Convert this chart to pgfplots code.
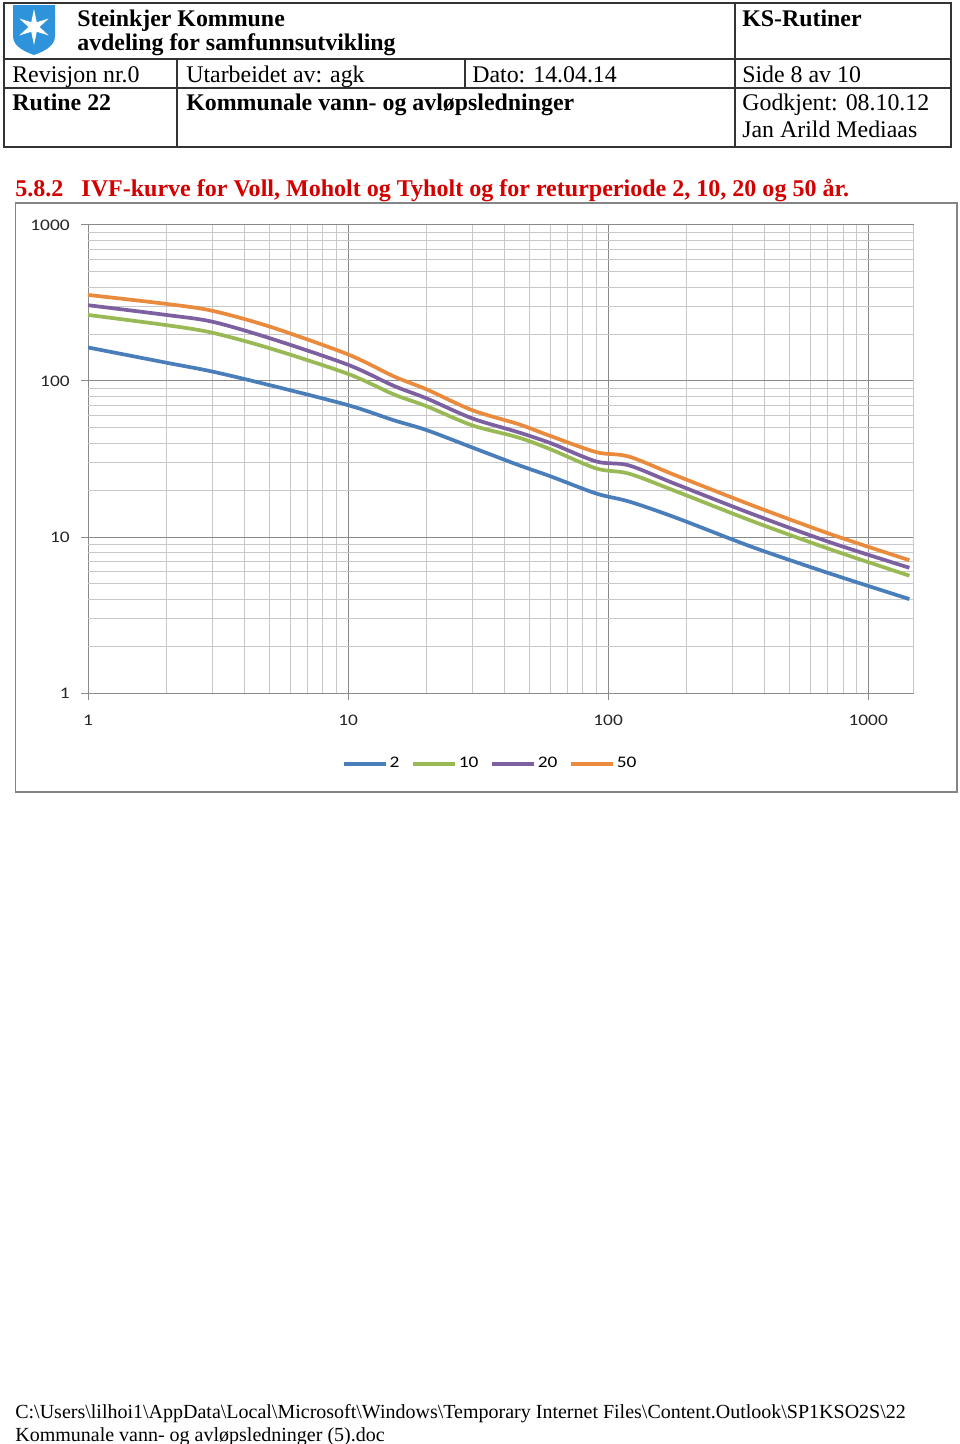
\documentclass[border=0pt]{standalone}
\usepackage{fontspec}
\setmainfont{Liberation Serif}
\newfontfamily\calibri[FakeStretch=1.2]{Carlito}
\usepackage{pgfplots}
\pgfplotsset{compat=1.18}

\definecolor{sblue}{HTML}{4A7EBB}
\definecolor{sgreen}{HTML}{98B954}
\definecolor{spurple}{HTML}{7D60A0}
\definecolor{sorange}{HTML}{EA8A3C}
\definecolor{titlered}{HTML}{D40000}
\definecolor{shield}{HTML}{2E93DA}
\definecolor{majgrid}{HTML}{8A8A8A}
\definecolor{mingrid}{HTML}{C8C8C8}

\begin{document}
\begin{tikzpicture}
\begin{scope}[x=0.62pt,y=-0.62pt]
\useasboundingbox (0,0) rectangle (960,1444);
\fill[white] (0,0) rectangle (960,1444);

% header table
\begin{scope}[line width=0.7pt, draw=black!80]
  \draw (4,3) rectangle (951,147);
  \draw (4,59) -- (951,59);
  \draw (4,88) -- (951,88);
  \draw (177,59) -- (177,147);
  \draw (465,59) -- (465,88);
  \draw (735,3) -- (735,147);
\end{scope}

% logo
\fill[shield] (13,5) -- (55,5) -- (55,36) .. controls (55,47) and (42,52) .. (34,55)
  .. controls (26,52) and (13,47) .. (13,36) -- cycle;
\fill[white, shift={(34,27)}] (90:18) -- (120:5.5) -- (150:17) -- (180:5.5) -- (210:17)
  -- (240:5.5) -- (270:18) -- (300:5.5) -- (330:17) -- (0:5.5) -- (30:17) -- (60:5.5) -- cycle;

\begin{scope}[every node/.style={anchor=base west, inner sep=0pt, font=\fontsize{14.8}{17}\selectfont}]
  \node[font=\bfseries\fontsize{14.8}{17}\selectfont] at (77,26) {Steinkjer Kommune};
  \node[font=\bfseries\fontsize{14.8}{17}\selectfont] at (77,50) {avdeling for samfunnsutvikling};
  \node[font=\bfseries\fontsize{14.8}{17}\selectfont] at (742,26) {KS-Rutiner};
  \node at (12,82) {Revisjon nr.0};
  \node at (186,82) {Utarbeidet av: agk};
  \node at (472,82) {Dato: 14.04.14};
  \node at (742,82) {Side 8 av 10};
  \node[font=\bfseries\fontsize{14.8}{17}\selectfont] at (12,110) {Rutine 22};
  \node[font=\bfseries\fontsize{14.8}{17}\selectfont] at (186,110) {Kommunale vann- og avløpsledninger};
  \node at (742,110) {Godkjent: 08.10.12};
  \node at (742,137) {Jan Arild Mediaas};
\end{scope}

\begin{scope}[every node/.style={anchor=base west, inner sep=0pt}]
  \node[font=\bfseries\fontsize{14.9}{17}\selectfont, text=titlered] at (15,196)
    {5.8.2\hspace{0.5em} IVF-kurve for Voll, Moholt og Tyholt og for returperiode 2, 10, 20 og 50 år.};
  \node[font=\fontsize{12.4}{15}\selectfont] at (15,1418) {C:\textbackslash Users\textbackslash lilhoi1\textbackslash AppData\textbackslash Local\textbackslash Microsoft\textbackslash Windows\textbackslash Temporary Internet Files\textbackslash Content.Outlook\textbackslash SP1KSO2S\textbackslash 22};
  \node[font=\fontsize{12.4}{15}\selectfont] at (15,1441) {Kommunale vann- og avløpsledninger (5).doc};
\end{scope}

% chart frame
\draw[line width=1.2pt, draw=black!48] (15.5,203) rectangle (957,792);
\end{scope}

\begin{axis}[
  at={(54.56pt,-429.66pt)}, anchor=south west,
  scale only axis,
  width=512.1pt, height=290.2pt,
  xmode=log, ymode=log,
  xmin=1, xmax=1500, ymin=1, ymax=1000,
  xtick={1,10,100,1000}, xticklabels={1,10,100,1000},
  ytick={1,10,100,1000}, yticklabels={1,10,100,1000},
  minor xtick={2,3,4,5,6,7,8,9,20,30,40,50,60,70,80,90,200,300,400,500,600,700,800,900},
  minor ytick={2,3,4,5,6,7,8,9,20,30,40,50,60,70,80,90,200,300,400,500,600,700,800,900},
  grid=both,
  major grid style={draw=majgrid, line width=0.6pt},
  minor grid style={draw=mingrid, line width=0.6pt},
  axis line style={draw=none},
  tick align=outside,
  xtick pos=bottom, ytick pos=left,
  major tick length=4.3pt, minor tick length=0pt,
  major tick style={draw=majgrid, line width=0.6pt},
  ticklabel style={font=\calibri\fontsize{10}{12}\selectfont, text=black!85},
  yticklabel style={anchor=east, inner sep=0pt, xshift=-6.9pt},
  xticklabel style={anchor=north, inner sep=0pt, yshift=-9.3pt},
  legend style={at={(0.487,-0.151)}, anchor=center, draw=none, fill=none,
    legend columns=4, font=\calibri\fontsize{10}{12}\selectfont,
    nodes={inner sep=1pt},
    /tikz/every even column/.append style={column sep=6.5pt}},
  legend image code/.code={\draw[#1] (0pt,0pt) -- (26pt,0pt);},
  every axis plot/.append style={line width=2.3pt, smooth},
]
\addplot[sblue] coordinates {
  (1,164) (2,131) (3,115) (5,94) (10,70) (15,56) (20,48.5) (30,37.5) (45,29)
  (60,24.5) (90,19) (120,16.9) (180,13.4) (360,8.6) (720,5.8) (1440,4.0)
};
\addlegendentry{2}
\addplot[sgreen] coordinates {
  (1,265) (2,228) (3,204) (5,162) (10,111) (15,82) (20,69) (30,52) (45,43.5)
  (60,36.5) (90,27.5) (120,25.5) (180,19.8) (360,12.6) (720,8.3) (1440,5.65)
};
\addlegendentry{10}
\addplot[spurple] coordinates {
  (1,306) (2,265) (3,240) (5,188) (10,127) (15,93) (20,77.5) (30,57.6) (45,47)
  (60,40) (90,30.5) (120,28.8) (180,22) (360,14.0) (720,9.2) (1440,6.35)
};
\addlegendentry{20}
\addplot[sorange] coordinates {
  (1,356) (2,312) (3,282) (5,223) (10,148) (15,107) (20,88.5) (30,65) (45,53)
  (60,44.4) (90,35) (120,32.8) (180,25) (360,15.9) (720,10.4) (1440,7.1)
};
\addlegendentry{50}
\draw[draw=mingrid, line width=0.6pt] (rel axis cs:1,0) -- (rel axis cs:1,1);
\end{axis}
\end{tikzpicture}
\end{document}
